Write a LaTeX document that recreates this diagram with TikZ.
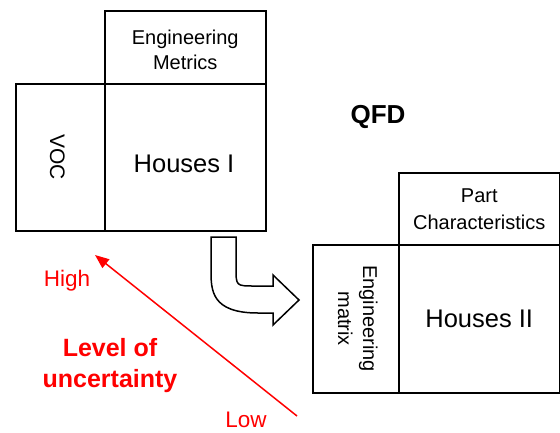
\documentclass[tikz,border=0pt]{standalone}
\usepackage{fontspec}
\setmainfont{Liberation Sans}
\usetikzlibrary{arrows.meta}
\begin{document}
\begin{tikzpicture}[x=1pt,y=-1pt,
  cell/.style={draw, line width=1.5pt, inner sep=0pt, anchor=north west},
  lbl/.style={align=center, font=\fontsize{20}{25}\selectfont},
  big/.style={font=\fontsize{25.5}{30}\selectfont},
  redtxt/.style={text=red, font=\fontsize{22.5}{25}\selectfont},
  redbold/.style={text=red, align=center, font=\bfseries\fontsize{25}{31}\selectfont}]
\useasboundingbox (0,0) rectangle (560,432);
% House I
\node[cell, minimum width=161pt, minimum height=73pt] (em) at (104,10) {};
\node[cell, minimum width=89pt, minimum height=147pt] (voc) at (15,83) {};
\node[cell, minimum width=161pt, minimum height=147pt] (h1) at (104,83) {};
\node[lbl] (emt) at ([yshift=-3pt]em.center) {Engineering\\Metrics};
\node[lbl, rotate=-90, font=\fontsize{21}{25}\selectfont] (voct) at ([xshift=-3pt]voc.center) {VOC};
\node[big] (h1t) at (184,164) {Houses I};
% House II
\node[cell, minimum width=161pt, minimum height=72pt] (pc) at (398,172) {};
\node[cell, minimum width=86pt, minimum height=148pt] (emx) at (312,244) {};
\node[cell, minimum width=161pt, minimum height=148pt] (h2) at (398,244) {};
\node[lbl, font=\fontsize{20}{27}\selectfont] (pct) at (pc.center) {Part\\Characteristics};
\node[lbl, rotate=-90] (emxt) at ([xshift=2pt]emx.center) {Engineering\\matrix};
\node[big] (h2t) at (h2.center) {Houses II};
% QFD
\node[font=\bfseries\fontsize{26}{30}\selectfont] (qfd) at (378,117) {QFD};
% curved arrow
\draw[line width=1.5pt, fill=white, line join=miter]
  (211,237) -- (236,237) -- (236,268) .. controls (236,286) .. (255,286)
  -- (273,286) -- (273,275) -- (299,300) -- (273,325) -- (273,313) -- (258,313)
  .. controls (211,313) and (211,290) .. (211,270) -- cycle;
% uncertainty arrow
\coordinate (low) at (297,416);
\coordinate (high) at (95,255);
\draw[red, line width=1.5pt, -{Triangle[length=14pt, width=11pt]}] (low) -- (high);
\node[redtxt] (hi) at (67,281) {High};
\node[redtxt] (lo) at (246,420) {Low};
\node[redbold] (lev) at (110,366) {Level of\\uncertainty};
\end{tikzpicture}
\end{document}
